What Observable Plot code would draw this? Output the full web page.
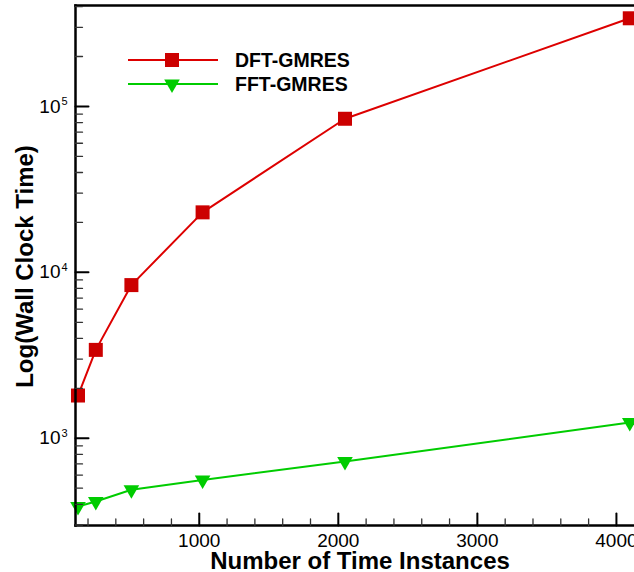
<!DOCTYPE html>
<html>
<head>
<meta charset="utf-8">
<script src="https://cdn.jsdelivr.net/npm/d3@7"></script>
<script src="https://cdn.jsdelivr.net/npm/@observablehq/plot@0.6"></script>
<style>
  html, body { margin: 0; padding: 0; background: #fff; overflow: hidden; }
  #wrap { position: relative; width: 634px; height: 572px; font-family: "Liberation Sans", Arial, Helvetica, sans-serif; }
  #legend { position: absolute; left: 0; top: 0; pointer-events: none; }
</style>
</head>
<body>
<div id="wrap"></div>
<script>
// ---- data ----
const timeInstances = [128, 256, 512, 1024, 2048, 4096];
const dftGmres = [1810, 3410, 8380, 23000, 84300, 340000];
const fftGmres = [388, 416, 489, 561, 724, 1244];
const seriesNames = ["DFT-GMRES", "FFT-GMRES"];

// ---- ticks ----
const xMajorTicks = [1000, 2000, 3000, 4000];
const xMinorTicks = [200, 400, 600, 800, 1200, 1400, 1600, 1800, 2200, 2400, 2600, 2800, 3200, 3400, 3600, 3800];
const yMajorTicks = [1e3, 1e4, 1e5];
const yMajorExponents = ["3", "4", "5"];
const yMinorTicks = [300, 400, 500, 600, 700, 800, 900,
  2e3, 3e3, 4e3, 5e3, 6e3, 7e3, 8e3, 9e3,
  2e4, 3e4, 4e4, 5e4, 6e4, 7e4, 8e4, 9e4,
  2e5, 3e5, 4e5];

const xTitle = "Number of Time Instances";
const yTitle = "Log(Wall Clock Time)";

const red = "#dd0000", redFill = "#cc0000", green = "#00cc00";
const font = '"Liberation Sans", Arial, Helvetica, sans-serif';

const dft = timeInstances.map((n, i) => ({n, t: dftGmres[i]}));
const fft = timeInstances.map((n, i) => ({n, t: fftGmres[i]}));
const yTicks = yMajorTicks.map((v, i) => ({v, e: yMajorExponents[i]}));

const tickShape = {draw(context, l) { context.moveTo(0, 0); context.lineTo(0, -l); }};

const chart = Plot.plot({
  width: 634,
  height: 572,
  marginLeft: 75,
  marginRight: 0,
  marginTop: 5,
  marginBottom: 47,
  style: {fontFamily: font, background: "white", color: "black", overflow: "visible"},
  x: {type: "linear", domain: [110, 4130], axis: null},
  y: {type: "log", domain: [298, 406000], axis: null},
  marks: [
    // data
    Plot.line(dft, {x: "n", y: "t", stroke: red, strokeWidth: 2}),
    Plot.line(fft, {x: "n", y: "t", stroke: green, strokeWidth: 2}),
    Plot.dot(dft, {x: "n", y: "t", symbol: "square", r: 7.9, fill: redFill, stroke: "none"}),
    Plot.dot(fft, {x: "n", y: "t", symbol: "triangle", rotate: 180, r: 5.8, fill: green, stroke: "none"}),
    // frame
    Plot.frame({anchor: "left", stroke: "black", strokeWidth: 2.5}),
    Plot.frame({anchor: "bottom", stroke: "black", strokeWidth: 2.5}),
    Plot.frame({anchor: "top", stroke: "black", strokeWidth: 2.5}),
    // x ticks (inward)
    Plot.vector(xMajorTicks, {x: d => d, frameAnchor: "bottom", length: 12, anchor: "start", shape: tickShape, stroke: "black", strokeWidth: 2}),
    Plot.vector(xMinorTicks, {x: d => d, frameAnchor: "bottom", length: 6.5, anchor: "start", shape: tickShape, stroke: "#333", strokeWidth: 1.3}),
    // y ticks (inward)
    Plot.vector(yMajorTicks, {y: d => d, frameAnchor: "left", length: 13, rotate: 90, anchor: "start", shape: tickShape, stroke: "black", strokeWidth: 2}),
    Plot.vector(yMinorTicks, {y: d => d, frameAnchor: "left", length: 7, rotate: 90, anchor: "start", shape: tickShape, stroke: "#333", strokeWidth: 1.3}),
    // x tick labels
    Plot.text(xMajorTicks, {x: d => d, frameAnchor: "bottom", text: d => String(d), lineAnchor: "top", dy: 8, fontSize: 19, fill: "black"}),
    // y tick labels: 10 with superscript
    Plot.text(yTicks, {y: "v", frameAnchor: "left", text: () => "10", textAnchor: "end", lineAnchor: "middle", dx: -15, fontSize: 19, fill: "black"}),
    Plot.text(yTicks, {y: "v", frameAnchor: "left", text: "e", textAnchor: "end", lineAnchor: "bottom", dx: -8, dy: -1, fontSize: 11, fill: "black"}),
    // axis titles
    Plot.text([xTitle], {frameAnchor: "bottom", text: d => d, textAnchor: "middle", lineAnchor: "bottom", dy: 43, dx: 5, fontSize: 24, fontWeight: "bold", fill: "black"}),
    Plot.text([yTitle], {frameAnchor: "left", text: d => d, rotate: -90, textAnchor: "middle", lineAnchor: "bottom", dx: -43, dy: 1, fontSize: 24, fontWeight: "bold", fill: "black"})
  ]
});

const wrap = document.getElementById("wrap");
wrap.appendChild(chart);

// ---- legend (overlay) ----
const legend = d3.create("svg")
  .attr("id", "legend")
  .attr("width", 634).attr("height", 120)
  .style("font-family", font);
const legendRows = [
  {name: seriesNames[0], stroke: red, fill: redFill, symbol: d3.symbolSquare, size: Math.PI * 7.9 * 7.9, rotate: 0, y: 60},
  {name: seriesNames[1], stroke: green, fill: green, symbol: d3.symbolTriangle, size: Math.PI * 5.8 * 5.8, rotate: 180, y: 84}
];
for (const row of legendRows) {
  legend.append("line")
    .attr("x1", 128).attr("x2", 218).attr("y1", row.y).attr("y2", row.y)
    .attr("stroke", row.stroke).attr("stroke-width", 2);
  legend.append("path")
    .attr("d", d3.symbol(row.symbol, row.size)())
    .attr("transform", `translate(172,${row.y}) rotate(${row.rotate})`)
    .attr("fill", row.fill);
  legend.append("text")
    .attr("x", 235).attr("y", row.y + 6.8)
    .attr("font-size", 19.5).attr("font-weight", "bold")
    .attr("fill", "black")
    .text(row.name);
}
wrap.appendChild(legend.node());
</script>
</body>
</html>
